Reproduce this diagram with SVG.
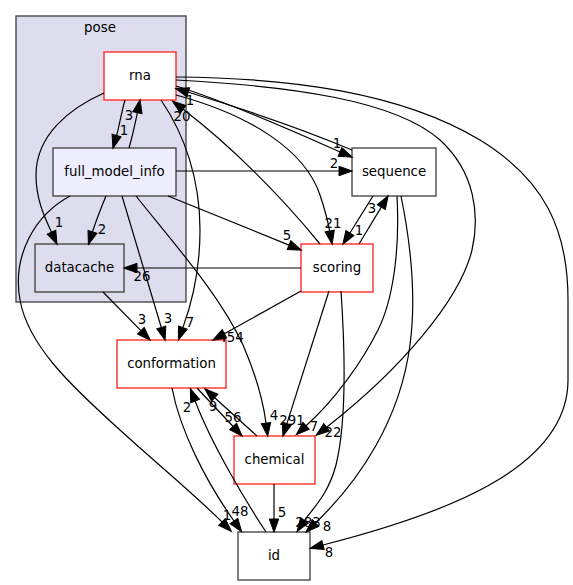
<svg xmlns="http://www.w3.org/2000/svg" width="573" height="585" viewBox="0 0 573 585">
<defs>
<style>
text{font-family:"DejaVu Sans","Liberation Sans",sans-serif;font-size:13.33px;fill:#000;text-anchor:middle}
.cl{fill:#ddddee;stroke:#404040;stroke-width:1.33}
.n{fill:#fff;stroke:#404040;stroke-width:1.33}
.r{fill:#fff;stroke:#ff2020;stroke-width:1.33}
.e path{fill:none;stroke:#000;stroke-width:1.2;marker-end:url(#ah)}
</style>
<marker id="ah" markerUnits="userSpaceOnUse" viewBox="-1 -1 15.3 11.4" refX="0" refY="4.7" markerWidth="15.3" markerHeight="11.4" orient="auto" overflow="visible">
<path d="M0,0 L13.3,4.7 L0,9.4 z" fill="#000" stroke="#000" stroke-width="1"/>
</marker>
</defs>
<rect width="573" height="585" fill="#fff"/>
<g id="cluster-pose">
<rect class="cl" x="16" y="16" width="170" height="286"/>
<text x="100" y="32">pose</text>
</g>
<g id="node-rna"><rect class="r" x="104" y="52" width="72" height="48"/><text x="140" y="80">rna</text></g>
<g id="node-full_model_info"><rect class="n" x="53" y="148" width="123" height="48" style="fill:#eeeeff"/><text x="114.5" y="176">full_model_info</text></g>
<g id="node-datacache"><rect class="n" x="35" y="244" width="89" height="48" style="fill:#ddddee"/><text x="79.5" y="272">datacache</text></g>
<g id="node-sequence"><rect class="n" x="352" y="148" width="84" height="48"/><text x="394" y="176">sequence</text></g>
<g id="node-scoring"><rect class="r" x="301" y="244" width="72" height="48"/><text x="337" y="272">scoring</text></g>
<g id="node-conformation"><rect class="r" x="117" y="340" width="109" height="48"/><text x="171.5" y="368">conformation</text></g>
<g id="node-chemical"><rect class="r" x="234" y="436" width="81" height="48"/><text x="274.5" y="464">chemical</text></g>
<g id="node-id"><rect class="n" x="238" y="532" width="72" height="48"/><text x="274" y="560">id</text></g>
<g id="edges" class="e">
<g><path d="M125,100 C122,110 118.8,127.8 116.6,135.5"/><text x="124" y="135">1</text></g>
<g><path d="M129,148 C132,138 135.8,120.5 137.4,112.7"/><text x="129" y="120">3</text></g>
<g><path d="M104,93 C70,108 36,135 36,175 C36,200 45,218 51.5,232.2"/><text x="59" y="227">1</text></g>
<g><path d="M106,196 C101,208 96,221 92.5,231.8"/><text x="102" y="234">2</text></g>
<g><path d="M352,150 C300,128 240,108 188.3,92.3"/><text x="190" y="105">1</text></g>
<g><path d="M176,86 C240,106 321.6,144.1 340,151.9"/><text x="337" y="148">1</text></g>
<g><path d="M176,171 L339,171"/><text x="334" y="168">2</text></g>
<g><path d="M320,244 C280,195 230,145 183.1,109.3"/><text x="182" y="121">20</text></g>
<g><path d="M176,95 C250,115 305,150 320,195 C325,210 328,222 329.7,231.1"/><text x="333" y="228">21</text></g>
<g><path d="M168,196 L289,245.1"/><text x="287" y="240">5</text></g>
<g><path d="M373,196 L349.9,233"/><text x="359" y="235">1</text></g>
<g><path d="M359,244 L381.3,207.1"/><text x="372" y="213">3</text></g>
<g><path d="M301,268 L137,268"/><text x="142" y="281">26</text></g>
<g><path d="M103,292 L140.9,330.7"/><text x="142" y="324">3</text></g>
<g><path d="M122,196 L161.3,327.5"/><text x="168" y="323">3</text></g>
<g><path d="M161,100 C185,135 200,180 200,230 C200,270 193,300 182.9,327.6"/><text x="190" y="327">7</text></g>
<g><path d="M301,291 L224.4,333.7"/><text x="231" y="342">454</text></g>
<g><path d="M197,388 L233.1,426.5"/><text x="233" y="422">56</text></g>
<g><path d="M257,436 L214.7,397.7"/><text x="213" y="411">9</text></g>
<g><path d="M266,532 C245,500 212,445 195.1,401"/><text x="187" y="412">2</text></g>
<g><path d="M136,196 C175,245 220,295 243,345 C256,375 263,400 266,423.1"/><text x="274" y="420">4</text></g>
<g><path d="M329,291 L286.9,423.6"/><text x="292" y="425">291</text></g>
<g><path d="M397,196 C400,250 393,300 378,330 C362,362 335,400 306.1,425.8"/><text x="314" y="431">7</text></g>
<g><path d="M176,80 C290,86 395,100 440,140 C475,172 480,215 472,250 C460,300 400,370 326.6,427.2"/><text x="333" y="437">22</text></g>
<g><path d="M176,77 C290,78 400,92 480,140 C545,180 568,230 568,300 L568,380 C568,470 440,515 323,545"/><text x="329" y="557">8</text></g>
<g><path d="M341,291 C345,350 347,420 336,465 C328,495 313,508 304.5,520.5"/><text x="308" y="527">283</text></g>
<g><path d="M401,196 C412,250 416,300 410,345 C400,420 360,480 315.5,523"/><text x="327" y="531">8</text></g>
<g><path d="M172,388 C180,430 205,480 234,521"/><text x="240" y="516">48</text></g>
<g><path d="M70,196 C35,215 12,255 20,300 C28,345 70,385 120,430 C155,462 195,495 222,522"/><text x="227" y="520">1</text></g>
<g><path d="M274,484 L274,519"/><text x="282" y="517">5</text></g>
</g>
</svg>
